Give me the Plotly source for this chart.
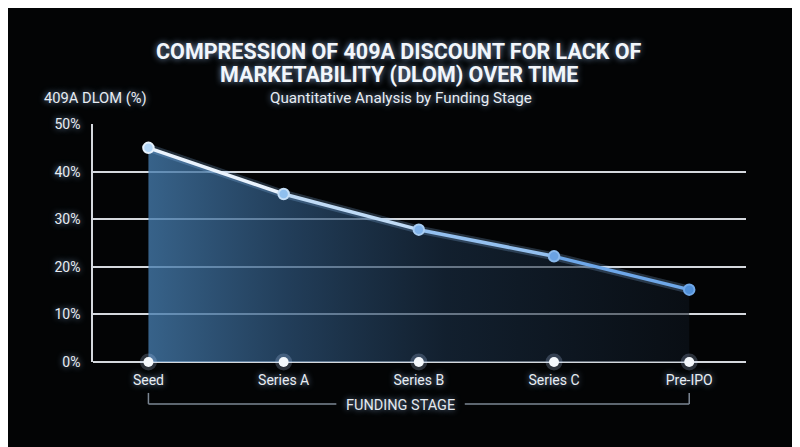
"""Compression of 409A DLOM by funding stage - dark glow line chart."""

import plotly.graph_objects as go

STAGES = ["Seed", "Series A", "Series B", "Series C", "Pre-IPO"]
DLOM_PCT = [45, 35.3, 27.8, 22.2, 15.2]
Y_TICKS = [0, 10, 20, 30, 40, 50]
Y_TICK_TEXT = ["0%", "10%", "20%", "30%", "40%", "50%"]

# colour of each line segment / point, going from near-white to blue
SEGMENT_COLORS = ["#eaf3fd", "#c0dbf6", "#94c0ef", "#6ea7e8"]
POINT_FILLS = ["#b3d6f7", "#8fbfee", "#7fb2ea", "#6aa2e2", "#4f8fd8"]
POINT_LINES = ["#e6f2fd", "#c4def7", "#a9cdf2", "#8ab9ec", "#70a8e8"]

BG = "#030405"
GRID = "rgba(230,234,240,0.92)"
FONT = "Roboto, Arial, sans-serif"
GLOW = "0px 0px 6px rgba(170,205,255,0.75)"

fig = go.Figure()

# gradient area under the curve (fades left to right)
fig.add_trace(
    go.Scatter(
        x=STAGES,
        y=DLOM_PCT,
        mode="lines",
        line={"width": 0, "color": "rgba(0,0,0,0)"},
        fill="tozeroy",
        fillgradient={
            "type": "horizontal",
            "colorscale": [
                [0.0, "rgba(70,125,175,0.78)"],
                [0.25, "rgba(48,88,128,0.7)"],
                [0.55, "rgba(28,50,74,0.6)"],
                [1.0, "rgba(14,22,32,0.55)"],
            ],
        },
        hoverinfo="skip",
        showlegend=False,
    )
)

# soft glow under the line
fig.add_trace(
    go.Scatter(
        x=STAGES,
        y=DLOM_PCT,
        mode="lines",
        line={"width": 8, "color": "rgba(150,200,255,0.22)"},
        hoverinfo="skip",
        showlegend=False,
    )
)

# line segments with shifting colour
for i, color in enumerate(SEGMENT_COLORS):
    fig.add_trace(
        go.Scatter(
            x=STAGES[i : i + 2],
            y=DLOM_PCT[i : i + 2],
            mode="lines",
            line={"width": 3.5, "color": color},
            hoverinfo="skip",
            showlegend=False,
        )
    )

# data points
fig.add_trace(
    go.Scatter(
        x=STAGES,
        y=DLOM_PCT,
        mode="markers",
        marker={
            "size": 10.5,
            "color": POINT_FILLS,
            "line": {"color": POINT_LINES, "width": 2},
        },
        hovertemplate="%{x}: %{y:.1f}%<extra></extra>",
        showlegend=False,
    )
)

# glowing dots on the baseline
fig.add_trace(
    go.Scatter(
        x=STAGES,
        y=[0] * len(STAGES),
        mode="markers",
        marker={"size": 17, "color": "rgba(190,215,255,0.22)"},
        hoverinfo="skip",
        cliponaxis=False,
        showlegend=False,
    )
)
fig.add_trace(
    go.Scatter(
        x=STAGES,
        y=[0] * len(STAGES),
        mode="markers",
        marker={"size": 10, "color": "#f4f8fc"},
        hoverinfo="skip",
        cliponaxis=False,
        showlegend=False,
    )
)

annotations = [
    {
        "text": "<b>COMPRESSION OF 409A DISCOUNT FOR LACK OF</b>",
        "xref": "paper", "yref": "paper",
        "x": 0.468, "y": 1.303, "xanchor": "center", "yanchor": "middle",
        "showarrow": False,
        "font": {"size": 21.5, "color": "#f2f6fb", "family": FONT, "shadow": GLOW},
    },
    {
        "text": "<b>MARKETABILITY (DLOM) OVER TIME</b>",
        "xref": "paper", "yref": "paper",
        "x": 0.468, "y": 1.206, "xanchor": "center", "yanchor": "middle",
        "showarrow": False,
        "font": {"size": 21.5, "color": "#f2f6fb", "family": FONT, "shadow": GLOW},
    },
    {
        "text": "Quantitative Analysis by Funding Stage",
        "xref": "paper", "yref": "paper",
        "x": 0.471, "y": 1.109, "xanchor": "center", "yanchor": "middle",
        "showarrow": False,
        "font": {"size": 15.2, "color": "#e8edf3", "family": FONT, "shadow": GLOW},
    },
    {
        "text": "409A DLOM (%)",
        "xref": "paper", "yref": "paper",
        "x": -0.078, "y": 1.109, "xanchor": "left", "yanchor": "middle",
        "showarrow": False,
        "font": {"size": 14.7, "color": "#e8edf3", "family": FONT, "shadow": GLOW},
    },
    {
        "text": "FUNDING STAGE",
        "xref": "paper", "yref": "paper",
        "x": 0.4715, "y": -0.181, "xanchor": "center", "yanchor": "middle",
        "showarrow": False,
        "font": {"size": 14.5, "color": "#e3e8ee", "family": FONT, "shadow": GLOW},
    },
]

bracket = {"color": "#7c8794", "width": 1.5}
shapes = [
    {"type": "line", "xref": "x", "yref": "paper", "x0": 0, "x1": 0, "y0": -0.13, "y1": -0.176, "line": bracket},
    {"type": "line", "xref": "x", "yref": "paper", "x0": 0, "x1": 1.39, "y0": -0.176, "y1": -0.176, "line": bracket},
    {"type": "line", "xref": "x", "yref": "paper", "x0": 2.34, "x1": 4, "y0": -0.176, "y1": -0.176, "line": bracket},
    {"type": "line", "xref": "x", "yref": "paper", "x0": 4, "x1": 4, "y0": -0.176, "y1": -0.13, "line": bracket},
]

# the page puts the figure 8px in from the top-left, so margins compensate
fig.update_layout(
    width=800,
    height=447,
    margin={"l": 85, "r": 62, "t": 116, "b": 93},
    paper_bgcolor=BG,
    plot_bgcolor=BG,
    font={"family": FONT, "color": "#e8edf3", "size": 14},
    annotations=annotations,
    shapes=shapes,
    showlegend=False,
)
fig.update_xaxes(
    type="category",
    range=[-0.41, 4.42],
    showgrid=False,
    zeroline=False,
    showline=False,
    ticks="",
    ticklabelstandoff=8,
    tickfont={"size": 14, "color": "#e8edf3", "family": FONT, "shadow": GLOW},
)
fig.update_yaxes(
    range=[0, 50],
    tickmode="array",
    tickvals=Y_TICKS,
    ticktext=Y_TICK_TEXT,
    showgrid=True,
    gridcolor=GRID,
    gridwidth=1.6,
    zeroline=True,
    zerolinecolor=GRID,
    zerolinewidth=1.6,
    showline=True,
    linecolor=GRID,
    linewidth=1.6,
    ticks="",
    ticklabelstandoff=8,
    tickfont={"size": 14, "color": "#e8edf3", "family": FONT, "shadow": GLOW},
)

fig.write_html("out.html")
